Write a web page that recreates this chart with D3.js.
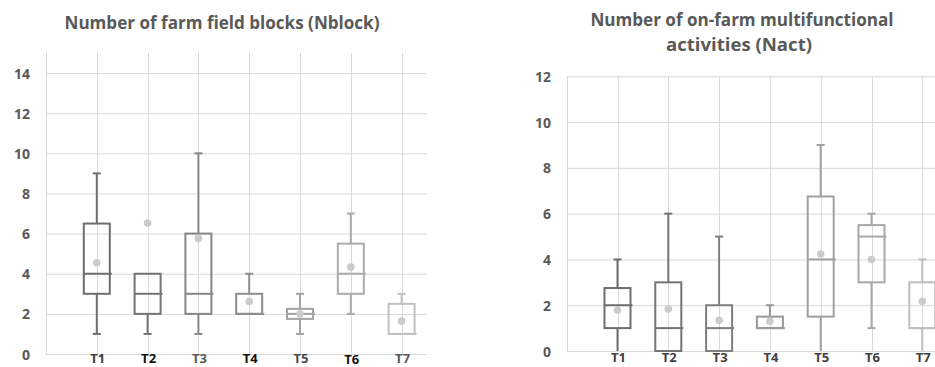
<!DOCTYPE html>
<html><head><meta charset="utf-8">
<script src="https://cdn.jsdelivr.net/npm/d3@7"></script>
<style>html,body{margin:0;padding:0;background:#fff;overflow:hidden}svg{display:block}</style>
</head><body>
<svg id="c" width="935" height="367"></svg>
<script>
// ---- data ----
const categories = ["T1","T2","T3","T4","T5","T6","T7"];
// Nblock
const nblockMin    = [1, 1, 1, 2, 1,    2, 1];
const nblockQ1     = [3, 2, 2, 2, 1.75, 3, 1];
const nblockMedian = [4, 3, 3, 2, 2,    4, 1];
const nblockQ3     = [6.5, 4, 6, 3, 2.25, 5.5, 2.5];
const nblockMax    = [9, 4, 10, 4, 3,   7, 3];
const nblockMean   = [4.55, 6.53, 5.76, 2.62, 1.99, 4.33, 1.64];
// Nact
const nactMin    = [0, 0, 0, 1, 0,    1, 0];
const nactQ1     = [1, 0, 0, 1, 1.5,  3, 1];
const nactMedian = [2, 1, 1, 1, 4,    5, 1];
const nactQ3     = [2.75, 3, 2, 1.5, 6.75, 5.5, 3];
const nactMax    = [4, 6, 5, 2, 9,    6, 4];
const nactMean   = [1.78, 1.83, 1.34, 1.3, 4.24, 4.0, 2.17];
const nblockTicks = [0,2,4,6,8,10,12,14];
const nactTicks = [0,2,4,6,8,10,12];

const leftColors  = ["#6e6e6e","#747474","#868686","#8e8e8e","#a3a3a3","#ababab","#c0c0c0"];
const rightColors = ["#6e6e6e","#747474","#7f7f7f","#999999","#a0a0a0","#a8a8a8","#bfbfbf"];
const leftLabelColors = ["#404040","#111111","#595959","#111111","#4a4a4a","#111111","#595959"];

const svg = d3.select("#c");
const FONT = "'Open Sans', 'DejaVu Sans', sans-serif";

function fitText(sel, w){
  sel.attr("textLength", w).attr("lengthAdjust","spacingAndGlyphs");
}

function drawChart(cfg){
  const g = svg.append("g");
  const x = d3.scaleLinear().domain([0,7.5]).range([cfg.x0, cfg.x1]);
  const y = d3.scaleLinear().domain([0,cfg.ymax]).range([cfg.y0, cfg.y1]);
  const rows = categories.map((c,i)=>({c,i,min:cfg.min[i],q1:cfg.q1[i],med:cfg.med[i],q3:cfg.q3[i],max:cfg.max[i],mean:cfg.mean[i]}));
  // horizontal gridlines
  g.selectAll(".hg").data(cfg.ticks).join("line")
    .attr("x1", x(0)).attr("x2", Math.min(x(7.5), cfg.clipX))
    .attr("y1", d=>y(d)+0.5).attr("y2", d=>y(d)+0.5)
    .attr("stroke", "#d9d9d9").attr("stroke-width",1);
  // vertical gridlines
  g.selectAll(".vg").data(d3.range(0,8)).join("line")
    .attr("x1", d=>Math.round(x(d))+0.5).attr("x2", d=>Math.round(x(d))+0.5)
    .attr("y1", y(0)).attr("y2", y(cfg.ymax))
    .attr("stroke", "#d9d9d9").attr("stroke-width",1);
  // y tick labels
  g.selectAll(".yl").data(cfg.ticks).join("text")
    .attr("x", cfg.labelX).attr("y", d=>y(d)+5.5)
    .attr("text-anchor","end").attr("font-family",FONT).attr("font-weight","bold")
    .attr("font-size", 14).attr("fill","#595959").text(d=>d);
  // x labels
  g.selectAll(".xl").data(rows).join("text")
    .attr("x", d=>x(d.i+1)+1).attr("y", d=>cfg.xlabY + (cfg.bumpT6 && d.i===5 ? 0.8:0))
    .attr("text-anchor","middle").attr("font-family",FONT).attr("font-weight","bold")
    .attr("font-size", 13).attr("fill", d=>cfg.labelColors[d.i]).text(d=>d.c);
  const bw = 26, cap = 8;
  const bx = g.selectAll(".box").data(rows).join("g").attr("stroke", d=>cfg.colors[d.i])
    .attr("stroke-width",2).attr("fill","none");
  // whiskers
  bx.append("line").attr("x1",d=>x(d.i+1)).attr("x2",d=>x(d.i+1))
    .attr("y1",d=>y(d.q3)).attr("y2",d=>y(d.max));
  bx.append("line").attr("x1",d=>x(d.i+1)).attr("x2",d=>x(d.i+1))
    .attr("y1",d=>y(d.q1)).attr("y2",d=>y(d.min));
  bx.filter(d=>d.max>d.q3).append("line").attr("x1",d=>x(d.i+1)-cap/2).attr("x2",d=>x(d.i+1)+cap/2)
    .attr("y1",d=>y(d.max)).attr("y2",d=>y(d.max));
  bx.filter(d=>d.min<d.q1 && d.min>0).append("line").attr("x1",d=>x(d.i+1)-cap/2).attr("x2",d=>x(d.i+1)+cap/2)
    .attr("y1",d=>y(d.min)).attr("y2",d=>y(d.min));
  // box
  bx.append("rect").attr("x",d=>x(d.i+1)-bw/2).attr("width",bw)
    .attr("y",d=>y(d.q3)).attr("height",d=>y(d.q1)-y(d.q3));
  // median
  bx.append("line").attr("x1",d=>x(d.i+1)-bw/2).attr("x2",d=>x(d.i+1)+bw/2+2)
    .attr("y1",d=>y(d.med)).attr("y2",d=>y(d.med));
  // mean
  g.selectAll(".mean").data(rows).join("circle")
    .attr("cx",d=>x(d.i+1)).attr("cy",d=>y(d.mean)).attr("r",3.8).attr("fill","#cbcbcb");
  // titles
  cfg.title.forEach(t=>{
    const tx = g.append("text").attr("x",t.x).attr("y",t.y).attr("text-anchor","middle")
      .attr("font-family",FONT).attr("font-weight","bold").attr("font-size",17.5)
      .attr("fill","#595959").text(t.text);
    fitText(tx, t.w);
  });
}

drawChart({x0:46, x1:427, y0:354, y1:53, ymax:15, clipX:935, ticks:nblockTicks, labelX:30,
  xlabY:363.3, bumpT6:true,
  min:nblockMin,q1:nblockQ1,med:nblockMedian,q3:nblockQ3,max:nblockMax,mean:nblockMean,
  colors:leftColors, labelColors:leftLabelColors,
  title:[{text:"Number of farm field blocks (Nblock)", x:222, y:29, w:315}]});

drawChart({x0:566.7, x1:947.7, y0:351, y1:76.3, ymax:12, clipX:935, ticks:nactTicks, labelX:551,
  xlabY:361.5, bumpT6:false,
  min:nactMin,q1:nactQ1,med:nactMedian,q3:nactQ3,max:nactMax,mean:nactMean,
  colors:rightColors, labelColors:categories.map(()=>"#404040"),
  title:[{text:"Number of on-farm multifunctional", x:742, y:26, w:303},
         {text:"activities (Nact)", x:739, y:50.5, w:146}]});
</script>
</body></html>
